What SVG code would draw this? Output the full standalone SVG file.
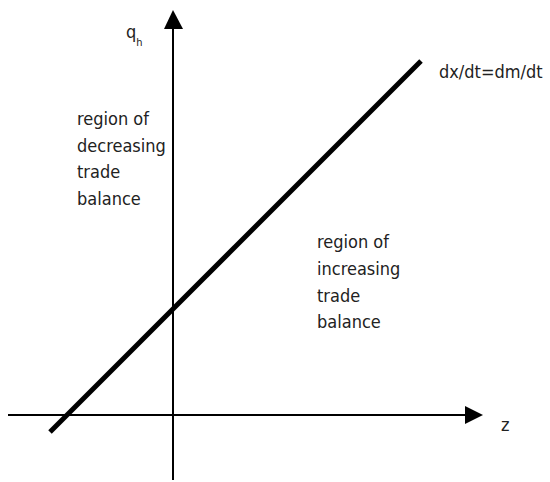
<svg xmlns="http://www.w3.org/2000/svg" width="550" height="482" viewBox="0 0 550 482">
<style>
text{font-family:"DejaVu Sans Condensed","DejaVu Sans",sans-serif;font-size:18px;fill:#222}
.ax{stroke:#000;stroke-width:2;fill:none}
</style>
<rect width="550" height="482" fill="#fff"/>
<g id="connectors">
<line class="ax" x1="173" y1="480" x2="173" y2="26"/>
<polygon points="173,10 164,29 183,29" fill="#000"/>
<line class="ax" x1="8" y1="415" x2="468" y2="415"/>
<polygon points="483,415 465,406 465,424" fill="#000"/>
<line x1="50" y1="432" x2="421" y2="61" stroke="#000" stroke-width="5"/>
</g>
<g id="label-q">
<text x="126" y="38">q<tspan font-size="11" dy="8">h</tspan></text>
</g>
<g id="label-z"><text x="501" y="431">z</text></g>
<g id="label-line"><text x="439" y="78">dx/dt=dm/dt</text></g>
<g id="region-decreasing">
<text x="77" y="125">region of</text>
<text x="77" y="152">decreasing</text>
<text x="77" y="178">trade</text>
<text x="77" y="205">balance</text>
</g>
<g id="region-increasing">
<text x="317" y="248">region of</text>
<text x="317" y="275">increasing</text>
<text x="317" y="302">trade</text>
<text x="317" y="328">balance</text>
</g>
</svg>
